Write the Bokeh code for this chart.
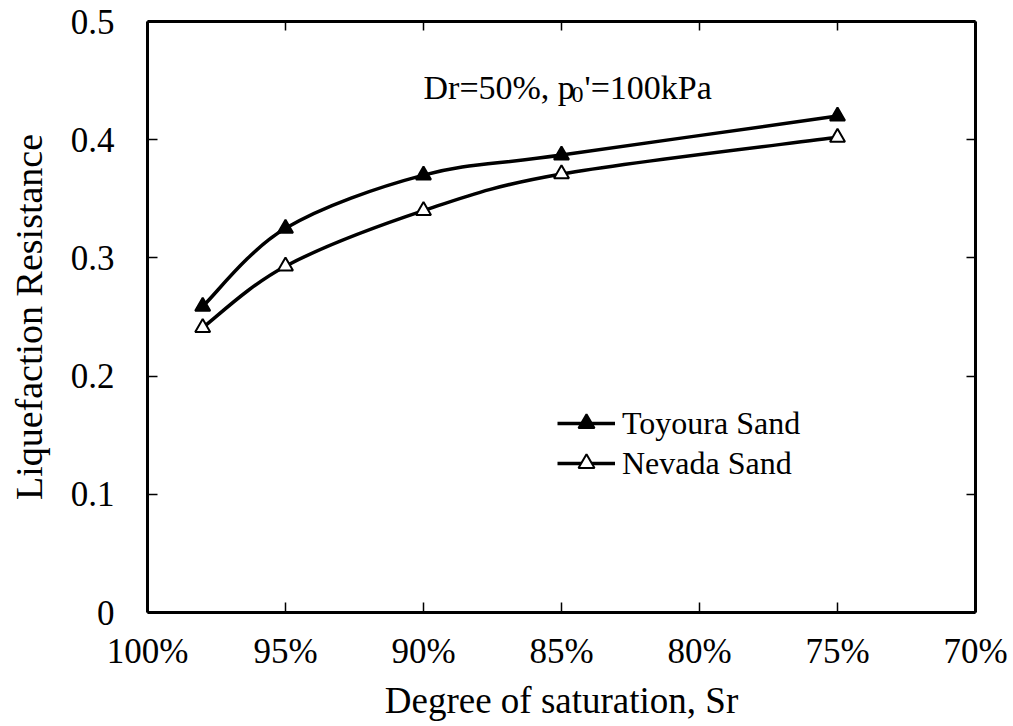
from bokeh.plotting import figure
from bokeh.models import Range1d, LinearAxis, FixedTicker, Legend, LegendItem, Label
from bokeh.embed import file_html
from bokeh.resources import INLINE

# ---- data ----
saturation = [98, 95, 90, 85, 75]
toyoura = [0.259, 0.325, 0.370, 0.387, 0.420]
nevada = [0.241, 0.293, 0.340, 0.371, 0.402]

x_ticks = [100, 95, 90, 85, 80, 75, 70]
x_tick_labels = ["100%", "95%", "90%", "85%", "80%", "75%", "70%"]
y_ticks = [0, 0.1, 0.2, 0.3, 0.4, 0.5]
y_tick_labels = ["0", "0.1", "0.2", "0.3", "0.4", "0.5"]

series_names = ["Toyoura Sand", "Nevada Sand"]
x_title = "Degree of saturation, Sr"
y_title = "Liquefaction Resistance"

FONT = "Liberation Serif"

p = figure(width=1013, height=726, x_range=Range1d(100, 70), y_range=Range1d(0, 0.5),
           output_backend="svg", toolbar_location=None,
           min_border_left=147, min_border_right=38, min_border_top=21, min_border_bottom=114)
p.grid.visible = False
p.outline_line_color = None
p.background_fill_color = "white"
p.border_fill_color = "white"


def style_axis(ax, labels=True):
    ax.axis_line_width = 3
    ax.axis_line_color = "black"
    ax.major_tick_in = 10
    ax.major_tick_out = 0
    ax.major_tick_line_width = 1.5
    ax.major_tick_line_color = "black"
    ax.minor_tick_line_color = None
    if labels:
        ax.major_label_text_font = FONT
        ax.major_label_text_font_size = "35px"
        ax.major_label_text_color = "black"
        ax.axis_label_text_font = FONT
        ax.axis_label_text_font_size = "37px"
        ax.axis_label_text_font_style = "normal"
        ax.axis_label_text_color = "black"
    else:
        ax.major_label_text_color = None
        ax.major_label_text_font_size = "1px"
        ax.major_label_standoff = 0


xa = p.xaxis[0]
xa.ticker = FixedTicker(ticks=x_ticks)
xa.major_label_overrides = {t: l for t, l in zip(x_ticks, x_tick_labels)}
style_axis(xa)
xa.major_label_standoff = 19
xa.axis_label = x_title
xa.axis_label_standoff = 6

ya = p.yaxis[0]
ya.ticker = FixedTicker(ticks=y_ticks)
ya.major_label_overrides = {t: l for t, l in zip(y_ticks, y_tick_labels)}
style_axis(ya)
ya.major_label_standoff = 33
ya.axis_label = y_title
ya.axis_label_standoff = 18
ya.axis_label_text_font_size = "38px"

top = LinearAxis(ticker=FixedTicker(ticks=x_ticks))
style_axis(top, labels=False)
top.major_tick_in = 9
p.add_layout(top, "above")
right = LinearAxis(ticker=FixedTicker(ticks=y_ticks))
style_axis(right, labels=False)
right.major_tick_in = 9
p.add_layout(right, "right")


def smooth_segments(xs, ys):
    n = len(xs)
    x0, y0, x1, y1, cx0, cy0, cx1, cy1 = [], [], [], [], [], [], [], []
    for i in range(n - 1):
        a = i - 1 if i > 0 else i
        d = i + 2 if i + 2 < n else i + 1
        x0.append(xs[i]); y0.append(ys[i])
        x1.append(xs[i + 1]); y1.append(ys[i + 1])
        cx0.append(xs[i] + (xs[i + 1] - xs[a]) / 6.0)
        cy0.append(ys[i] + (ys[i + 1] - ys[a]) / 6.0)
        cx1.append(xs[i + 1] - (xs[d] - xs[i]) / 6.0)
        cy1.append(ys[i + 1] - (ys[d] - ys[i]) / 6.0)
    return dict(x0=x0, y0=y0, x1=x1, y1=y1, cx0=cx0, cy0=cy0, cx1=cx1, cy1=cy1)


items = []
for name, vals, fill in [(series_names[0], toyoura, "black"), (series_names[1], nevada, "white")]:
    seg = smooth_segments(saturation, vals)
    bz = p.bezier(x0=seg["x0"], y0=seg["y0"], x1=seg["x1"], y1=seg["y1"],
                  cx0=seg["cx0"], cy0=seg["cy0"], cx1=seg["cx1"], cy1=seg["cy1"],
                  line_color="black", line_width=3.5)
    sc = p.scatter(x=saturation, y=vals, marker="triangle", size=15,
                   fill_color=fill, line_color="black", line_width=2)
    items.append(LegendItem(label=name, renderers=[bz, sc]))

legend = Legend(items=items, location=(410, 129), glyph_width=58, glyph_height=40,
                label_standoff=7, padding=0, margin=0, spacing=0,
                border_line_color=None, background_fill_alpha=0,
                label_text_font=FONT, label_text_font_size="32px", label_text_color="black")
p.add_layout(legend)

ann_x, ann_y = 90, 0.444
p.add_layout(Label(x=ann_x, y=ann_y, text="Dr=50%, p", text_font=FONT, text_font_size="34px",
                   text_baseline="alphabetic", text_color="black"))
p.add_layout(Label(x=ann_x, y=ann_y, x_offset=148, y_offset=-7, text="0", text_font=FONT,
                   text_font_size="24px", text_baseline="alphabetic", text_color="black"))
p.add_layout(Label(x=ann_x, y=ann_y, x_offset=161, text="'=100kPa", text_font=FONT,
                   text_font_size="34px", text_baseline="alphabetic", text_color="black"))

open("out.html", "w").write(file_html(p, INLINE))
